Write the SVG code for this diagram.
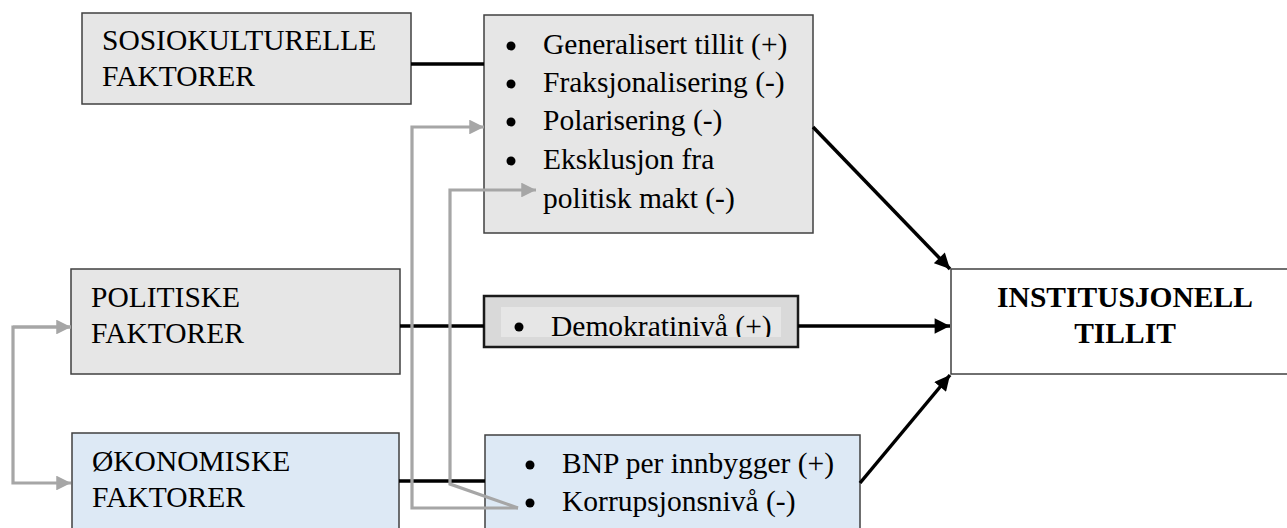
<svg xmlns="http://www.w3.org/2000/svg" width="1287" height="528" viewBox="0 0 1287 528">
<style>
.grey{fill:#e6e6e6;stroke:#404040;stroke-width:1.5}
.blue{fill:#dde9f5;stroke:#404040;stroke-width:1.5}
.blk{fill:none;stroke:#000;stroke-width:3.5}
.gry{fill:none;stroke:#a6a6a6;stroke-width:3.2}
</style>
<defs>
<marker id="ab" viewBox="0 0 10 10" refX="10" refY="5" markerWidth="4.6" markerHeight="4.4" markerUnits="strokeWidth" orient="auto"><path d="M0,0 L10,5 L0,10 z" fill="#000"/></marker>
<marker id="ag" viewBox="0 0 10 10" refX="10" refY="5" markerWidth="5" markerHeight="4.6" markerUnits="strokeWidth" orient="auto"><path d="M0,0 L10,5 L0,10 z" fill="#a6a6a6"/></marker>
<clipPath id="dc"><rect x="501" y="307" width="280" height="30"/></clipPath>
</defs>
<rect width="1287" height="528" fill="#fff"/>
<g id="sosio">
<rect class="grey" x="82" y="13" width="329" height="91"/>
<text x="102" y="50" font-family="Liberation Serif" font-size="29.5">SOSIOKULTURELLE</text>
<text x="102" y="86" font-family="Liberation Serif" font-size="29.5">FAKTORER</text>
</g>
<g id="sosio-factors">
<rect class="grey" x="484" y="15" width="329" height="218"/>
<g fill="#000"><circle cx="511" cy="46" r="4.5"/><circle cx="511" cy="84" r="4.5"/><circle cx="511" cy="122" r="4.5"/><circle cx="511" cy="161" r="4.5"/></g>
<text x="543" y="54" font-family="Liberation Serif" font-size="29.5">Generalisert tillit (+)</text>
<text x="543" y="92" font-family="Liberation Serif" font-size="29.5">Fraksjonalisering (-)</text>
<text x="543" y="130" font-family="Liberation Serif" font-size="29.5">Polarisering (-)</text>
<text x="543" y="169" font-family="Liberation Serif" font-size="29.5">Eksklusjon fra</text>
<text x="543" y="208" font-family="Liberation Serif" font-size="29.5">politisk makt (-)</text>
</g>
<g id="politiske">
<rect class="grey" x="71" y="269" width="329" height="105"/>
<text x="91" y="307" font-family="Liberation Serif" font-size="29.5">POLITISKE</text>
<text x="91" y="343" font-family="Liberation Serif" font-size="29.5">FAKTORER</text>
</g>
<g id="demokrati">
<rect x="484" y="296" width="314" height="51" fill="#d9d9d9" stroke="#1a1a1a" stroke-width="2.5"/>
<rect x="501" y="307" width="280" height="30" fill="#e6e6e6"/>
<circle cx="519" cy="327" r="4.5" fill="#000"/>
<text x="551" y="336" clip-path="url(#dc)" font-family="Liberation Serif" font-size="29.5">Demokratiniv&#229; (+)</text>
</g>
<g id="okonomiske">
<rect class="blue" x="72" y="433" width="327" height="110"/>
<text x="92" y="471" font-family="Liberation Serif" font-size="29.5">&#216;KONOMISKE</text>
<text x="92" y="507" font-family="Liberation Serif" font-size="29.5">FAKTORER</text>
</g>
<g id="okonomiske-factors">
<rect class="blue" x="485" y="435" width="375" height="110"/>
<circle cx="530" cy="465" r="4.5" fill="#000"/>
<circle cx="530" cy="503" r="4.5" fill="#000"/>
<text x="562" y="473" font-family="Liberation Serif" font-size="29.5">BNP per innbygger (+)</text>
<text x="562" y="511" font-family="Liberation Serif" font-size="29.5">Korrupsjonsniv&#229; (-)</text>
</g>
<g id="institusjonell">
<rect x="951" y="269" width="345" height="105" fill="#fff" stroke="#404040" stroke-width="1.5"/>
<text x="1125" y="307" font-family="Liberation Serif" font-size="29.5" font-weight="bold" text-anchor="middle">INSTITUSJONELL</text>
<text x="1125" y="343" font-family="Liberation Serif" font-size="29.5" font-weight="bold" text-anchor="middle">TILLIT</text>
</g>
<g id="connectors">
<line class="blk" x1="411" y1="64" x2="484" y2="64"/>
<line class="blk" x1="400" y1="326" x2="484" y2="326"/>
<line class="blk" x1="399" y1="481" x2="485" y2="481"/>
<line class="blk" x1="813" y1="127" x2="950" y2="269" marker-end="url(#ab)"/>
<line class="blk" x1="798" y1="326" x2="950" y2="326" marker-end="url(#ab)"/>
<line class="blk" x1="860" y1="483" x2="950" y2="375" marker-end="url(#ab)"/>
<polyline class="gry" points="71,327 13,327 13,483 71,483" marker-end="url(#ag)"/>
<polyline class="gry" points="13,327 71,327" marker-end="url(#ag)"/>
<polyline class="gry" points="518,508 412,508 412,127 484,127" marker-end="url(#ag)"/>
<polyline class="gry" points="518,508 450,484 450,190 536,190" marker-end="url(#ag)"/>
</g>
</svg>
